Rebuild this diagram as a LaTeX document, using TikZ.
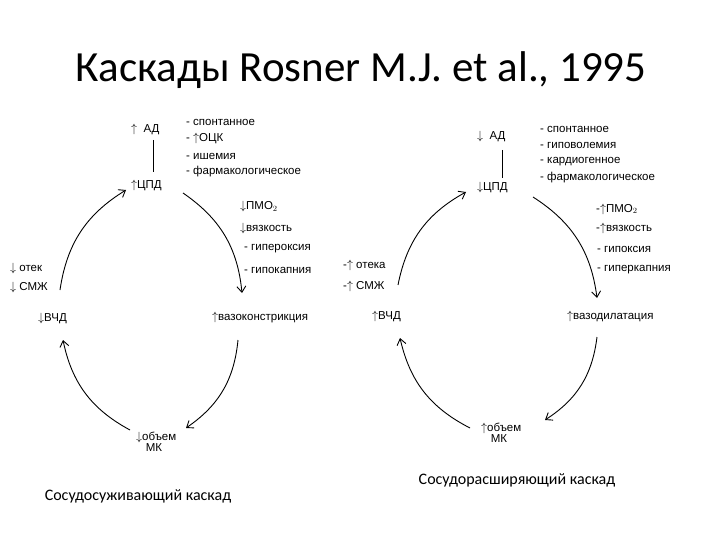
\documentclass[tikz,border=0pt]{standalone}
\usepackage{fontspec}
\setmainfont{Liberation Sans}
\newfontfamily\titlefont{Carlito}
\usetikzlibrary{arrows.meta}
\tikzset{
  lab/.style={anchor=west,inner sep=0pt,font=\fontsize{11.5}{12}\selectfont},
  arc/.style={line width=0.9pt,-{Straight Barb[length=6pt,width=9pt]}},
  captext/.style={font=\titlefont\fontsize{16}{18}\selectfont},
}
\begin{document}
\begin{tikzpicture}[x=1pt,y=-1pt]
\useasboundingbox (0,0) rectangle (720,540);
\node (title) at (361,70) {\titlefont\fontsize{43}{48}\selectfont Каскады Rosner M.J. et al., 1995};
% left
\node[lab] (lAD) at (131,130) {$\uparrow$\ \ АД};
\node[lab] (lCPD) at (131,186) {$\uparrow$ЦПД};
\draw[line width=0.6pt] (153,140) -- (153,172);
\node[lab] (l1) at (186,122) {- спонтанное};
\node[lab] (l2) at (186,139) {- $\uparrow$ОЦК};
\node[lab] (l3) at (186,156) {- ишемия};
\node[lab] (l4) at (186,172) {- фармакологическое};
\node[lab] (l5) at (240,207) {$\downarrow$ПМО$_2$};
\node[lab] (l6) at (240,228) {$\downarrow$вязкость};
\node[lab] (l7) at (244,249) {- гипероксия};
\node[lab] (l8) at (244,270) {- гипокапния};
\node[lab] (lVK) at (212,318) {$\uparrow$вазоконстрикция};
\node[lab,align=left] (lOB) at (136,442) {$\downarrow$объем\\[-1pt]\ \ \ МК};
\node[lab] (lVCD) at (38,318) {$\downarrow$ВЧД};
\node[lab] (l9) at (10,268) {$\downarrow$ отек};
\node[lab] (l10) at (10,287) {$\downarrow$ СМЖ};
\coordinate (a1) at (183,193); \coordinate (b1) at (242,293);
\coordinate (a2) at (238,340); \coordinate (b2) at (186,428);
\coordinate (a3) at (130,430); \coordinate (b3) at (63,340);
\coordinate (a4) at (60,290); \coordinate (b4) at (126,190);
\draw[arc] (a1) to[bend left=25] (b1);
\draw[arc] (a2) to[bend left=25] (b2);
\draw[arc] (a3) to[bend left=25] (b3);
\draw[arc] (a4) to[bend left=25] (b4);
% right
\node[lab] (rAD) at (477,137) {$\downarrow$\ \ АД};
\node[lab] (rCPD) at (477,188) {$\downarrow$ЦПД};
\draw[line width=0.6pt] (502,150) -- (502,178);
\node[lab] (r1) at (540,129) {- спонтанное};
\node[lab] (r2) at (540,145) {- гиповолемия};
\node[lab] (r3) at (540,162) {- кардиогенное};
\node[lab] (r4) at (540,178) {- фармакологическое};
\node[lab] (r5) at (596,209) {-$\uparrow$ПМО$_2$};
\node[lab] (r6) at (596,229) {-$\uparrow$вязкость};
\node[lab] (r7) at (597,249) {- гипоксия};
\node[lab] (r8) at (597,270) {- гиперкапния};
\node[lab] (rVD) at (567,316) {$\uparrow$вазодилатация};
\node[lab,align=left] (rOB) at (481,433) {$\uparrow$объем\\[-1pt]\ \ \ МК};
\node[lab] (rVCD) at (372,316) {$\uparrow$ВЧД};
\node[lab] (r9) at (343,265) {-$\uparrow$ отека};
\node[lab] (r10) at (343,286) {-$\uparrow$ СМЖ};
\coordinate (c1) at (533,197); \coordinate (d1) at (597,298);
\coordinate (c2) at (597,337); \coordinate (d2) at (545,420);
\coordinate (c3) at (470,428); \coordinate (d3) at (400,338);
\coordinate (c4) at (398,285); \coordinate (d4) at (466,192);
\draw[arc] (c1) to[bend left=25] (d1);
\draw[arc] (c2) to[bend left=25] (d2);
\draw[arc] (c3) to[bend left=25] (d3);
\draw[arc] (c4) to[bend left=25] (d4);
\node[captext] (capL) at (138,496) {Сосудосуживающий каскад};
\node[captext] (capR) at (517,480) {Сосудорасширяющий каскад};
\end{tikzpicture}
\end{document}
